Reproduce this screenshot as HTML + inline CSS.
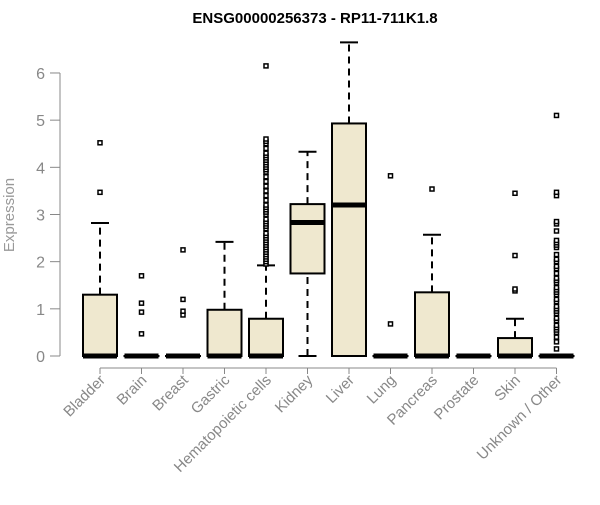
<!DOCTYPE html>
<html><head><meta charset="utf-8"><style>
body{margin:0;background:#fff}
svg text{font-family:"Liberation Sans",Arial,sans-serif}
</style></head><body>
<svg id="c" width="600" height="500" xmlns="http://www.w3.org/2000/svg">
<text x="315" y="23" text-anchor="middle" font-weight="bold" font-size="15" fill="#000">ENSG00000256373 - RP11-711K1.8</text>
<text transform="translate(14,215) rotate(-90)" text-anchor="middle" font-size="15" fill="#999">Expression</text>
<g id="axes"></g><g id="boxes"></g>
</svg>
<script>
const categories=["Bladder","Brain","Breast","Gastric","Hematopoietic cells","Kidney","Liver","Lung","Pancreas","Prostate","Skin","Unknown / Other"];
const q1=[0,0,0,0,0,1.75,0,0,0,0,0,0];
const med=[0,0,0,0,0,2.83,3.2,0,0,0,0,0];
const q3=[1.3,0,0,0.98,0.79,3.22,4.93,0,1.35,0,0.38,0];
const whiskLo=[0,0,0,0,0,0,0,0,0,0,0,0];
const whiskHi=[2.82,0,0,2.42,1.92,4.33,6.65,0,2.57,0,0.79,0];
const outliers=[[3.47,4.52],[0.47,0.93,1.12,1.7],[0.87,0.95,1.2,2.25],[],
[1.95,2.0,2.05,2.1,2.15,2.2,2.25,2.3,2.35,2.4,2.45,2.5,2.55,2.6,2.7,2.75,2.8,2.85,2.9,3.0,3.05,3.1,3.15,3.2,3.3,3.4,3.5,3.6,3.7,3.8,3.9,3.95,4.0,4.05,4.1,4.15,4.2,4.25,4.3,4.4,4.5,4.55,4.6,6.15],
[],[],[0.68,3.82],[3.54],[],[1.38,1.42,2.13,3.45],
[0.15,0.3,0.4,0.5,0.55,0.6,0.65,0.75,0.8,0.9,0.95,1.0,1.05,1.15,1.2,1.3,1.35,1.4,1.45,1.55,1.6,1.65,1.75,1.85,1.9,2.0,2.05,2.15,2.3,2.35,2.4,2.45,2.65,2.8,2.85,3.4,3.47,5.1]];
const yTicks=[0,1,2,3,4,5,6];
const NS="http://www.w3.org/2000/svg";
const y=v=>356-v*47.17;
const x=i=>100+i*41.5;
function mk(p,t,a){const e=document.createElementNS(NS,t);for(const k in a)e.setAttribute(k,a[k]);p.appendChild(e);return e;}
const ax=document.getElementById('axes'),bx=document.getElementById('boxes');
const yl=mk(ax,'line',{x1:60,x2:60,y1:y(0),y2:y(6),stroke:'#888'});


yTicks.forEach(v=>{
 mk(ax,'line',{x1:50,x2:60,y1:y(v),y2:y(v),stroke:'#888'});
 const t=mk(ax,'text',{x:45,y:y(v)+6,'text-anchor':'end','font-size':16,fill:'#888'});
 t.textContent=v;
 
 
});
const xl=mk(ax,'line',{x1:x(0),x2:x(11),y1:368,y2:368,stroke:'#888'});


categories.forEach((c,i)=>{
 mk(ax,'line',{x1:x(i),x2:x(i),y1:368,y2:374,stroke:'#888'});
 const t=mk(ax,'text',{transform:`translate(${x(i)+6},${381}) rotate(-45)`,'text-anchor':'end','font-size':15,fill:'#888'});
 t.textContent=c;
 
 
 const g=mk(bx,'g',{});
 
 
 const cx=x(i),hw=17;
 if(whiskHi[i]>q3[i]){
  mk(g,'line',{x1:cx,x2:cx,y1:y(q3[i]),y2:y(whiskHi[i]),stroke:'#000','stroke-width':2,'stroke-dasharray':'7,5'});
  mk(g,'line',{x1:cx-9,x2:cx+9,y1:y(whiskHi[i]),y2:y(whiskHi[i]),stroke:'#000','stroke-width':2});
 }
 if(q1[i]>whiskLo[i]){
  mk(g,'line',{x1:cx,x2:cx,y1:y(whiskLo[i]),y2:y(q1[i]),stroke:'#000','stroke-width':2,'stroke-dasharray':'7,5'});
  mk(g,'line',{x1:cx-9,x2:cx+9,y1:y(whiskLo[i]),y2:y(whiskLo[i]),stroke:'#000','stroke-width':2});
 }
 mk(g,'rect',{x:cx-hw,y:y(q3[i]),width:2*hw,height:Math.max(0.1,y(q1[i])-y(q3[i])),fill:'#efe8cf',stroke:'#000','stroke-width':2});
 mk(g,'line',{x1:cx-hw,x2:cx+hw,y1:y(med[i]),y2:y(med[i]),stroke:'#000','stroke-width':5});
 outliers[i].forEach(v=>{
  const o=mk(g,'rect',{x:cx-2,y:y(v)-2,width:4,height:4,fill:'#fff',stroke:'#000','stroke-width':1.5});
  
  
 });
});
</script>
</body></html>
